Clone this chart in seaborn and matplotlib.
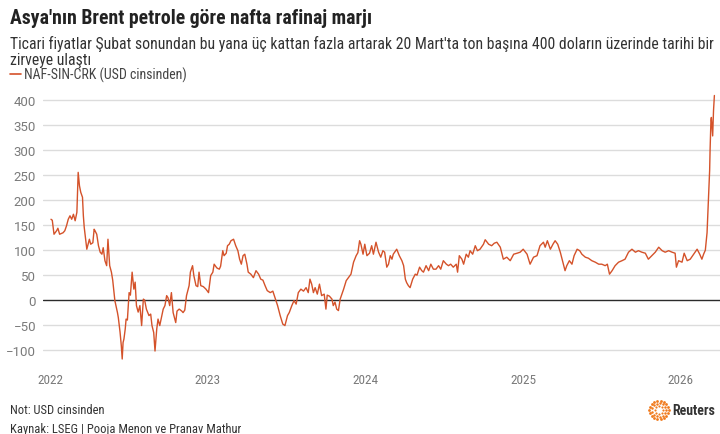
import matplotlib
matplotlib.use("Agg")
import matplotlib.pyplot as plt
import numpy as np
import pandas as pd
import seaborn as sns

# Naphtha crack vs Brent, Singapore (USD per tonne)
dates = [
    "2022-01-03", "2022-01-06", "2022-01-10", "2022-01-16", "2022-01-19", "2022-01-23", "2022-01-31",
    "2022-02-04", "2022-02-08", "2022-02-12", "2022-02-16", "2022-02-20", "2022-02-24", "2022-02-28",
    "2022-03-04", "2022-03-07", "2022-03-10", "2022-03-13", "2022-03-17", "2022-03-19", "2022-03-21",
    "2022-03-27", "2022-04-02", "2022-04-05", "2022-04-10", "2022-04-13", "2022-04-15", "2022-04-19",
    "2022-04-23", "2022-04-27", "2022-05-01", "2022-05-04", "2022-05-08", "2022-05-12", "2022-05-15",
    "2022-05-19", "2022-05-23", "2022-05-26", "2022-05-31", "2022-06-06", "2022-06-08", "2022-06-12",
    "2022-06-15", "2022-06-17", "2022-06-19", "2022-06-21", "2022-06-24", "2022-06-26", "2022-06-29",
    "2022-07-03", "2022-07-06", "2022-07-10", "2022-07-14", "2022-07-17", "2022-07-20", "2022-07-24",
    "2022-07-28", "2022-08-01", "2022-08-05", "2022-08-08", "2022-08-12", "2022-08-18", "2022-08-22",
    "2022-08-25", "2022-08-29", "2022-09-01", "2022-09-05", "2022-09-08", "2022-09-12", "2022-09-16",
    "2022-09-20", "2022-09-24", "2022-09-28", "2022-10-01", "2022-10-05", "2022-10-09", "2022-10-13",
    "2022-10-19", "2022-10-22", "2022-10-27", "2022-11-02", "2022-11-05", "2022-11-09", "2022-11-13",
    "2022-11-19", "2022-11-22", "2022-11-27", "2022-11-30", "2022-12-05", "2022-12-09", "2022-12-12",
    "2022-12-16", "2022-12-22", "2022-12-28",
    "2023-01-03", "2023-01-08", "2023-01-13", "2023-01-16", "2023-01-21", "2023-01-23", "2023-01-28",
    "2023-01-31", "2023-02-05", "2023-02-08", "2023-02-13", "2023-02-16", "2023-02-20", "2023-02-24",
    "2023-03-02", "2023-03-07", "2023-03-12", "2023-03-16", "2023-03-20", "2023-03-24", "2023-03-28",
    "2023-04-02", "2023-04-05", "2023-04-11", "2023-04-17", "2023-04-23", "2023-04-29", "2023-05-04",
    "2023-05-09", "2023-05-14", "2023-05-19", "2023-05-26", "2023-06-01", "2023-06-06", "2023-06-12",
    "2023-06-18", "2023-06-24", "2023-06-29", "2023-07-05", "2023-07-09", "2023-07-15", "2023-07-20",
    "2023-07-25", "2023-07-30", "2023-08-05", "2023-08-11", "2023-08-17", "2023-08-22", "2023-08-26",
    "2023-08-30", "2023-09-03", "2023-09-07", "2023-09-12", "2023-09-17", "2023-09-22", "2023-09-28",
    "2023-10-02", "2023-10-05", "2023-10-10", "2023-10-16", "2023-10-19", "2023-10-23", "2023-10-27",
    "2023-10-31", "2023-11-04", "2023-11-12", "2023-11-18", "2023-11-23", "2023-11-29", "2023-12-05",
    "2023-12-11", "2023-12-15", "2023-12-19", "2023-12-22", "2023-12-27", "2023-12-31",
    "2024-01-05", "2024-01-11", "2024-01-16", "2024-01-20", "2024-01-26", "2024-02-01", "2024-02-06",
    "2024-02-11", "2024-02-15", "2024-02-20", "2024-02-24", "2024-02-28", "2024-03-03", "2024-03-06",
    "2024-03-14", "2024-03-20", "2024-03-26", "2024-03-30", "2024-04-03", "2024-04-06", "2024-04-10",
    "2024-04-14", "2024-04-20", "2024-04-26", "2024-04-30", "2024-05-06", "2024-05-11", "2024-05-15",
    "2024-05-21", "2024-05-27", "2024-06-01", "2024-06-07", "2024-06-13", "2024-06-19", "2024-06-24",
    "2024-06-30", "2024-07-07", "2024-07-12", "2024-07-17", "2024-07-23", "2024-07-30", "2024-08-02",
    "2024-08-06", "2024-08-12", "2024-08-16", "2024-08-22", "2024-08-27", "2024-08-31", "2024-09-06",
    "2024-09-12", "2024-09-17", "2024-09-23", "2024-10-01", "2024-10-05", "2024-10-13", "2024-10-20",
    "2024-10-26", "2024-11-01", "2024-11-09", "2024-11-16", "2024-11-24", "2024-12-02", "2024-12-10",
    "2024-12-18", "2024-12-25",
    "2025-01-01", "2025-01-10", "2025-01-17", "2025-01-25", "2025-02-02", "2025-02-09", "2025-02-17",
    "2025-02-21", "2025-02-26", "2025-03-05", "2025-03-11", "2025-03-16", "2025-03-22", "2025-03-28",
    "2025-04-03", "2025-04-08", "2025-04-12", "2025-04-18", "2025-04-24", "2025-04-29", "2025-05-06",
    "2025-05-12", "2025-05-17", "2025-05-25", "2025-06-01", "2025-06-09", "2025-06-17", "2025-06-25",
    "2025-07-02", "2025-07-10", "2025-07-15", "2025-07-20", "2025-07-26", "2025-08-02", "2025-08-10",
    "2025-08-18", "2025-08-25", "2025-09-02", "2025-09-10", "2025-09-18", "2025-09-25", "2025-10-03",
    "2025-10-11", "2025-10-18", "2025-10-26", "2025-11-03", "2025-11-11", "2025-11-19", "2025-11-26",
    "2025-12-04", "2025-12-12", "2025-12-19", "2025-12-22", "2025-12-27",
    "2026-01-04", "2026-01-09", "2026-01-16", "2026-01-23", "2026-01-31", "2026-02-08", "2026-02-14",
    "2026-02-19", "2026-02-23", "2026-02-27", "2026-03-03", "2026-03-05", "2026-03-07", "2026-03-09",
    "2026-03-10", "2026-03-12", "2026-03-13", "2026-03-16", "2026-03-18", "2026-03-20",
]

margin = [
    162, 160, 132, 139, 144, 132, 135,
    139, 149, 162, 169, 162, 172, 159,
    176, 256, 229, 216, 206, 169, 146,
    102, 122, 112, 115, 142, 139, 132,
    109, 96, 92, 105, 79, 69, 122,
    69, 56, 40, -1, -25, -35, -64,
    -92, -118, -85, -78, -58, -38, -40,
    15, 10, 56, 22, 36, -11, -24,
    -11, -51, 2, 0, -18, -31, -28,
    -51, -65, -102, -58, -38, -51, -35,
    -18, -11, 9, 5, -11, 15, -25,
    -45, -22, -18, -22, -25, -20, 9,
    29, 56, 69, 49, 29, 27, 56,
    29, 27, 22,
    15, 49, 56, 72, 66, 64, 62,
    68, 99, 89, 94, 109, 112, 119,
    122, 109, 99, 82, 72, 89, 92,
    72, 56, 52, 45, 59, 52, 42,
    40, 29, 19, 15, 18, 5, -11,
    -31, -48, -51, -31, -25, -11, -1,
    -8, 15, 22, 18, 25, 15, 42,
    32, 15, 25, 12, 32, 9, 12,
    -18, 10, 8, 2, -11, -4, -18,
    -21, 2, 22, 39, 45, 52, 76,
    89, 95, 119, 112, 92, 112,
    89, 94, 109, 92, 116, 96, 86,
    99, 96, 66, 72, 89, 82, 92,
    102, 89, 79, 69, 42, 35, 29,
    25, 42, 52, 50, 66, 59, 56,
    69, 59, 72, 62, 62, 69, 62,
    79, 72, 69, 72, 66, 72, 56,
    89, 82, 72, 92, 86, 99, 92,
    109, 99, 102, 112, 121, 112, 109,
    114, 116, 106, 82, 86, 79, 92,
    94, 96,
    102, 92, 72, 86, 89, 109, 116,
    106, 119, 102, 112, 119, 112, 96,
    76, 59, 69, 79, 72, 89, 102,
    99, 92, 86, 84, 79, 76, 72,
    72, 69, 72, 52, 59, 69, 76,
    79, 82, 96, 102, 96, 99, 96,
    94, 82, 89, 96, 106, 99, 96,
    99, 96, 94, 66, 79,
    76, 94, 79, 82, 92, 102, 92,
    82, 92, 100, 135, 176, 220, 260,
    300, 360, 366, 329, 380, 410,
]

y_ticks = [-100, -50, 0, 50, 100, 150, 200, 250, 300, 350, 400]
x_years = [2022, 2023, 2024, 2025, 2026]

title = "Asya'nın Brent petrole göre nafta rafinaj marjı"
subtitle_1 = ("Ticari fiyatlar Şubat sonundan bu yana üç kattan fazla artarak "
              "20 Mart'ta ton başına 400 doların üzerinde tarihi bir")
subtitle_2 = "zirveye ulaştı"
series_name = "NAF-SIN-CRK (USD cinsinden)"
note = "Not: USD cinsinden"
source = "Kaynak: LSEG | Pooja Menon ve Pranav Mathur"

LINE = "#d4522a"
GRID = "#dcdcdc"
TICK = "#7a7a7a"
DARK = "#2b2b2b"

df = pd.DataFrame({"date": pd.to_datetime(dates), "margin": margin})

sns.set_theme(style="white")
plt.rcParams["font.family"] = ["Roboto", "DejaVu Sans"]
narrow = ["Liberation Sans Narrow", "Roboto Condensed", "Roboto", "DejaVu Sans"]

W, H = 720, 435
fig = plt.figure(figsize=(W / 100, H / 100), dpi=100)
fig.patch.set_facecolor("white")


def fx(px):
    return px / W


def fy(py):
    return 1 - py / H


ax = fig.add_axes([fx(43), fy(362), fx(677), (362 - 95) / H])
ax.set_facecolor("white")

for v in y_ticks:
    if v == 0:
        continue
    ax.axhline(v, color=GRID, lw=1.0, zorder=0)
ax.axhline(0, color=DARK, lw=1.0, zorder=1)

sns.lineplot(data=df, x="date", y="margin", ax=ax, color=LINE, lw=1.0,
             zorder=3, clip_on=False)

ax.set_xlim(pd.Timestamp("2021-12-15 12:00"), pd.Timestamp("2026-04-02"))
ax.set_ylim(-122, 413)
ax.set_xticks([pd.Timestamp(f"{y}-01-01") for y in x_years])
ax.set_xticklabels([str(y) for y in x_years], family=narrow)
ax.set_yticks(y_ticks)
ax.set_yticklabels([f"{v}".replace("-", "\u2212") for v in y_ticks])
ax.tick_params(axis="x", length=3, width=0.8, color="#9a9a9a", pad=6,
               labelsize=9.5, labelcolor=TICK, direction="out")
ax.tick_params(axis="y", length=0, pad=5, labelsize=9.5, labelcolor=TICK)
ax.set_xlabel("")
ax.set_ylabel("")
for s in ax.spines.values():
    s.set_visible(False)

# Header
fig.text(fx(10), fy(18), title, family=narrow, fontweight="bold", fontsize=14.2,
         color="#222222", va="center", ha="left")
fig.text(fx(10), fy(44), subtitle_1, family=narrow, fontsize=11.3,
         color="#333333", va="center", ha="left")
fig.text(fx(10), fy(60), subtitle_2, family=narrow, fontsize=11.3,
         color="#333333", va="center", ha="left")

# Legend key
fig.add_artist(plt.Line2D([fx(10), fx(21)], [fy(75), fy(75)], color=LINE, lw=1.2))
fig.text(fx(24), fy(75), series_name, family=narrow, fontsize=10,
         color="#444444", va="center", ha="left")

# Footer
fig.text(fx(10), fy(411), note, family=narrow, fontsize=9.0, color="#333333",
         va="center", ha="left")
fig.text(fx(10), fy(430), source, family=narrow, fontsize=9.0, color="#333333",
         va="center", ha="left")

# Reuters mark: dotted rings
lax = fig.add_axes([fx(648), fy(422), fx(22), 22 / H])
lax.set_xlim(-1.15, 1.15)
lax.set_ylim(-1.15, 1.15)
lax.set_aspect("equal")
lax.axis("off")
for r, n, s in [(1.0, 18, 4.0), (0.72, 13, 3.2), (0.45, 8, 2.4)]:
    ang = np.linspace(0, 2 * np.pi, n, endpoint=False)
    lax.scatter(r * np.cos(ang), r * np.sin(ang), s=s, color="#f07a1d", lw=0)
fig.text(fx(672), fy(411), "Reuters", family=narrow, fontweight="bold",
         fontsize=10, color="#333333", va="center", ha="left")

fig.savefig("out.png", dpi=100)
